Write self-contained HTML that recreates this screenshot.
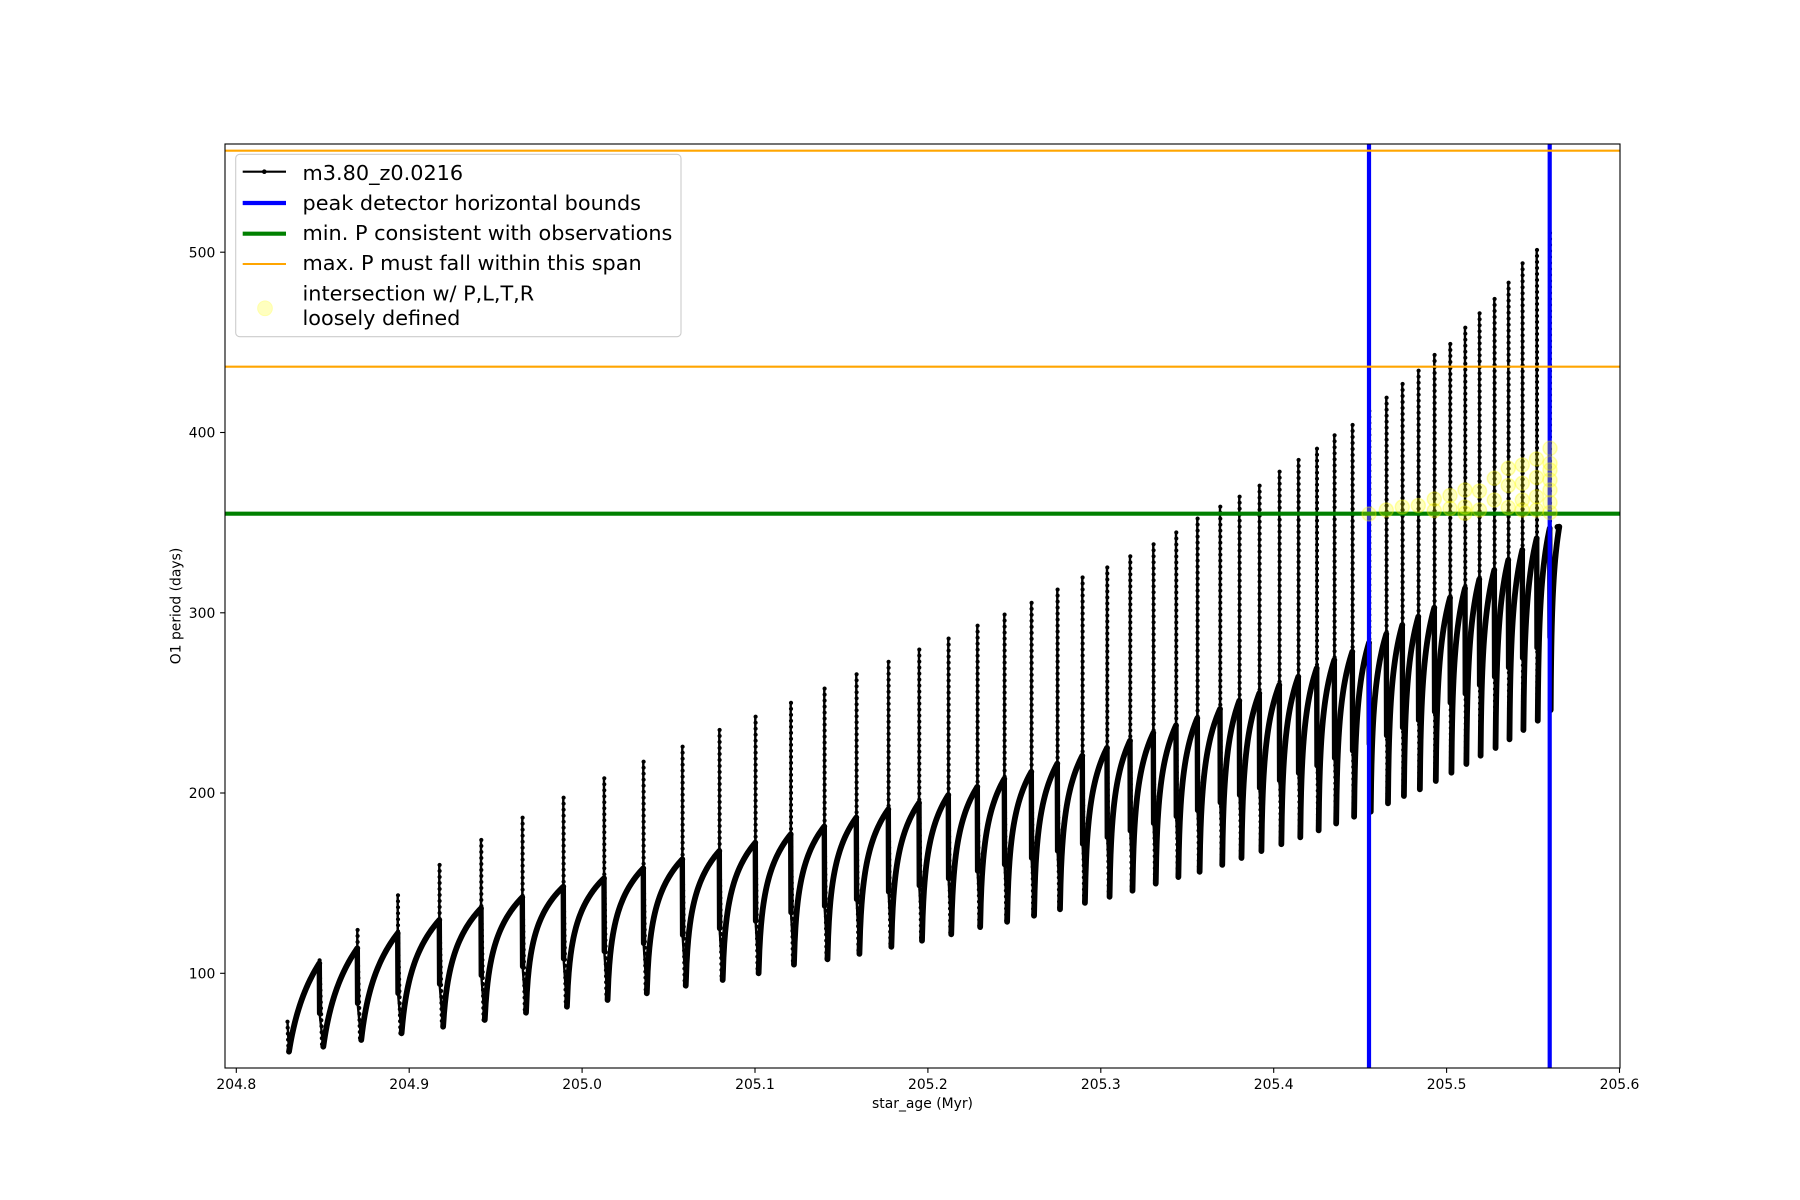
<!DOCTYPE html>
<html>
<head>
<meta charset="utf-8">
<style>
html,body{margin:0;padding:0;background:#fff;}
svg{display:block;}
text{font-family:"DejaVu Sans","Liberation Sans",sans-serif;fill:#000;}
</style>
</head>
<body>
<svg id="s" width="1800" height="1200" viewBox="0 0 1800 1200" xmlns="http://www.w3.org/2000/svg">
<rect width="1800" height="1200" fill="#fff"/>
<g id="data"></g>
<line x1="1369" y1="144" x2="1369" y2="1068" stroke="#0000ff" stroke-width="4.2"/>
<line x1="1549.7" y1="144" x2="1549.7" y2="1068" stroke="#0000ff" stroke-width="4.2"/>
<line x1="225" y1="513.7" x2="1620" y2="513.7" stroke="#008000" stroke-width="4.2"/>
<line x1="225" y1="150.7" x2="1620" y2="150.7" stroke="#ffa500" stroke-width="2.1"/>
<line x1="225" y1="366.7" x2="1620" y2="366.7" stroke="#ffa500" stroke-width="2.1"/>
<g fill="#ffff00" fill-opacity="0.25" stroke="#ffff00" stroke-opacity="0.3" stroke-width="1.5">
<circle cx="1369" cy="514" r="7"/>
<circle cx="1386.3" cy="510" r="7"/>
<circle cx="1402.3" cy="507" r="7"/>
<circle cx="1418.3" cy="505.5" r="7"/>
<circle cx="1434.3" cy="499" r="7"/>
<circle cx="1434.3" cy="510.5" r="7"/>
<circle cx="1450" cy="495.5" r="7"/>
<circle cx="1450" cy="508.5" r="7"/>
<circle cx="1465" cy="490" r="7"/>
<circle cx="1465" cy="507" r="7"/>
<circle cx="1465" cy="513.3" r="7"/>
<circle cx="1479.5" cy="491" r="7"/>
<circle cx="1479.5" cy="510" r="7"/>
<circle cx="1494.3" cy="478.3" r="7"/>
<circle cx="1494.3" cy="500" r="7"/>
<circle cx="1508.3" cy="468.3" r="7"/>
<circle cx="1508.3" cy="485.5" r="7"/>
<circle cx="1508.3" cy="507.5" r="7"/>
<circle cx="1522.3" cy="465" r="7"/>
<circle cx="1522.3" cy="483.3" r="7"/>
<circle cx="1522.3" cy="500" r="7"/>
<circle cx="1522.3" cy="510" r="7"/>
<circle cx="1536.5" cy="459" r="7"/>
<circle cx="1536.5" cy="477.5" r="7"/>
<circle cx="1536.5" cy="496.7" r="7"/>
<circle cx="1536.5" cy="510" r="7"/>
<circle cx="1550" cy="448.3" r="7"/>
<circle cx="1550" cy="463.3" r="7"/>
<circle cx="1550" cy="470" r="7"/>
<circle cx="1550" cy="480" r="7"/>
<circle cx="1550" cy="490" r="7"/>
<circle cx="1550" cy="502.5" r="7"/>
<circle cx="1550" cy="512.5" r="7"/>
</g>
<rect x="225" y="144" width="1395" height="924" fill="none" stroke="#000" stroke-width="1.1"/>
<g stroke="#000" stroke-width="1.1">
<line x1="236.3" y1="1068" x2="236.3" y2="1072.9"/>
<line x1="409.2" y1="1068" x2="409.2" y2="1072.9"/>
<line x1="582.1" y1="1068" x2="582.1" y2="1072.9"/>
<line x1="755" y1="1068" x2="755" y2="1072.9"/>
<line x1="927.9" y1="1068" x2="927.9" y2="1072.9"/>
<line x1="1100.8" y1="1068" x2="1100.8" y2="1072.9"/>
<line x1="1273.7" y1="1068" x2="1273.7" y2="1072.9"/>
<line x1="1446.6" y1="1068" x2="1446.6" y2="1072.9"/>
<line x1="1619.5" y1="1068" x2="1619.5" y2="1072.9"/>
<line x1="220.1" y1="973.3" x2="225" y2="973.3"/>
<line x1="220.1" y1="793" x2="225" y2="793"/>
<line x1="220.1" y1="612.8" x2="225" y2="612.8"/>
<line x1="220.1" y1="432.5" x2="225" y2="432.5"/>
<line x1="220.1" y1="252.2" x2="225" y2="252.2"/>
</g>
<g font-size="13.9" text-anchor="middle">
<text x="236.3" y="1089">204.8</text>
<text x="409.2" y="1089">204.9</text>
<text x="582.1" y="1089">205.0</text>
<text x="755" y="1089">205.1</text>
<text x="927.9" y="1089">205.2</text>
<text x="1100.8" y="1089">205.3</text>
<text x="1273.7" y="1089">205.4</text>
<text x="1446.6" y="1089">205.5</text>
<text x="1619.5" y="1089">205.6</text>
</g>
<g font-size="13.9" text-anchor="end">
<text x="215.3" y="978.4">100</text>
<text x="215.3" y="798.1">200</text>
<text x="215.3" y="617.9">300</text>
<text x="215.3" y="437.6">400</text>
<text x="215.3" y="257.3">500</text>
</g>
<text x="922.5" y="1108" font-size="13.9" text-anchor="middle">star_age (Myr)</text>
<text transform="translate(180.5,606) rotate(-90)" font-size="13.9" text-anchor="middle">O1 period (days)</text>
<rect x="235.7" y="154.3" width="445.3" height="182.4" rx="4" ry="4" fill="#fff" fill-opacity="0.8" stroke="#cccccc" stroke-width="1.1"/>
<line x1="242.7" y1="171.7" x2="286" y2="171.7" stroke="#000" stroke-width="2.1"/>
<circle cx="264.3" cy="171.7" r="2.3" fill="#000"/>
<line x1="242.7" y1="203" x2="286" y2="203" stroke="#0000ff" stroke-width="4.2"/>
<line x1="242.7" y1="233.7" x2="286" y2="233.7" stroke="#008000" stroke-width="4.2"/>
<line x1="242.7" y1="264" x2="286" y2="264" stroke="#ffa500" stroke-width="2.1"/>
<circle cx="265" cy="308.3" r="7.3" fill="#ffffbf" stroke="#ffffa8" stroke-width="1"/>
<g font-size="20.8">
<text x="302.5" y="180">m3.80_z0.0216</text>
<text x="302.5" y="210">peak detector horizontal bounds</text>
<text x="302.5" y="240">min. P consistent with observations</text>
<text x="302.5" y="270">max. P must fall within this span</text>
<text x="302.5" y="300.5">intersection w/ P,L,T,R</text>
<text x="302.5" y="325">loosely defined</text>
</g>
</svg>
<script>
(function(){
var P=[
[319.3,963.3,960.3,1046.7],
[357.3,948.3,930,1040],
[397.7,933.3,895.3,1033.3],
[439.3,920,865,1026.7],
[481,908.3,840,1020],
[522.3,897.3,817.7,1012.7],
[563.3,886.7,797.7,1006.7],
[604,878.3,778.3,1000],
[643.3,868.3,761.7,993.3],
[682.3,859.3,746.7,985.7],
[719.3,851,730,980],
[755.3,842.7,716.7,973.3],
[790.7,834.3,702.9,964.6],
[824.3,826.4,688.6,959.3],
[856.3,817.5,674.3,953.9],
[888.3,809.3,661.8,946.8],
[919,802.9,649.6,940.7],
[948.3,795,638.6,934.3],
[977.3,786.8,625.7,927.1],
[1004.3,778.9,614.6,921.8],
[1031.3,771.8,602.9,915.7],
[1057.3,763.6,589.6,909.3],
[1082.3,755.7,577.5,902.9],
[1107,747.9,567.5,896.8],
[1130,740.7,556.4,890.7],
[1153.3,732.9,544.3,883.6],
[1176,725.4,532.5,877.1],
[1197.3,718.2,518.6,871.8],
[1220,709,506.7,864.9],
[1239.3,700.7,496.7,858],
[1259.3,693.3,485.7,851.1],
[1279.3,685,471.7,844.2],
[1298.3,676.7,460,837.3],
[1316.7,668.3,448.7,830.4],
[1334.3,660,435.3,823.5],
[1352.3,651.7,425,816.7],
[1369,642.7,411,811.7],
[1386.3,634,397.7,803.3],
[1402.3,625,384,796],
[1418.3,616.7,370.7,789.3],
[1434.3,607.7,355,781],
[1450,597.7,344,772.7],
[1465,588.3,327.7,764],
[1479.3,579.3,313.3,755.7],
[1494.3,570,299,748],
[1508.3,560,282.7,739.3],
[1522.3,550,263.3,730],
[1536.7,538.3,250,720.7],
[1549.7,528.3,233,710]
];
var aList=[3,4,6,10,15,20];
function rise(x0,y0,x1,y1,a){
  var L=Math.log(1+a), s='M'+x0.toFixed(2)+' '+y0.toFixed(2), N=40;
  for(var k=1;k<=N;k++){var u=k/N;var f=Math.log(1+a*u)/L;
    s+='L'+(x0+(x1-x0)*u).toFixed(2)+' '+(y0+(y1-y0)*f).toFixed(2);}
  return s;
}
var riseD='', spD='', thickD='', dotD='';
var x0=289, y0=1051.7;
spD+='M287.5 1021.7L289 1051.7';
dotD+='M287.5 1021.7L288.5 1051.7';
for(var i=0;i<P.length;i++){
  var tp=P[i][0],pre=P[i][1],top=P[i][2],mn=P[i][3];
  var a=(i<aList.length)?aList[i]:30;
  riseD+=rise(x0,y0,tp,pre,a);
  var dd=4-3*i/48;
  var mid=pre+0.6*(mn-pre);
  spD+='M'+tp+' '+pre+'L'+tp+' '+top+'L'+(tp+0.3)+' '+mid+'L'+(tp+dd).toFixed(2)+' '+mn;
  thickD+='M'+tp+' '+pre+'L'+(tp+0.3)+' '+mid;
  dotD+='M'+(tp+0.3)+' '+top+'L'+(tp+0.3)+' '+pre+'L'+(tp+dd*0.7).toFixed(2)+' '+mn;
  x0=tp+dd; y0=mn;
}
riseD+=rise(x0,y0,1559.3,526.7,30);
var ns='http://www.w3.org/2000/svg';
var g=document.getElementById('data');
function mk(d,w,extra){var p=document.createElementNS(ns,'path');p.setAttribute('d',d);
  p.setAttribute('fill','none');p.setAttribute('stroke','#000');p.setAttribute('stroke-width',w);
  p.setAttribute('stroke-linejoin','round');p.setAttribute('stroke-linecap','round');
  if(extra){for(var k in extra)p.setAttribute(k,extra[k]);}
  g.appendChild(p);}
mk(spD,2.4);
mk(dotD,4.2,{'stroke-dasharray':'0 6'});
mk(thickD,5.4);
mk(riseD,5.8);
var c=document.createElementNS(ns,'circle');c.setAttribute('cx','1557.5');c.setAttribute('cy','527');c.setAttribute('r','3');c.setAttribute('fill','#000');g.appendChild(c);
})();
</script>
</body>
</html>
